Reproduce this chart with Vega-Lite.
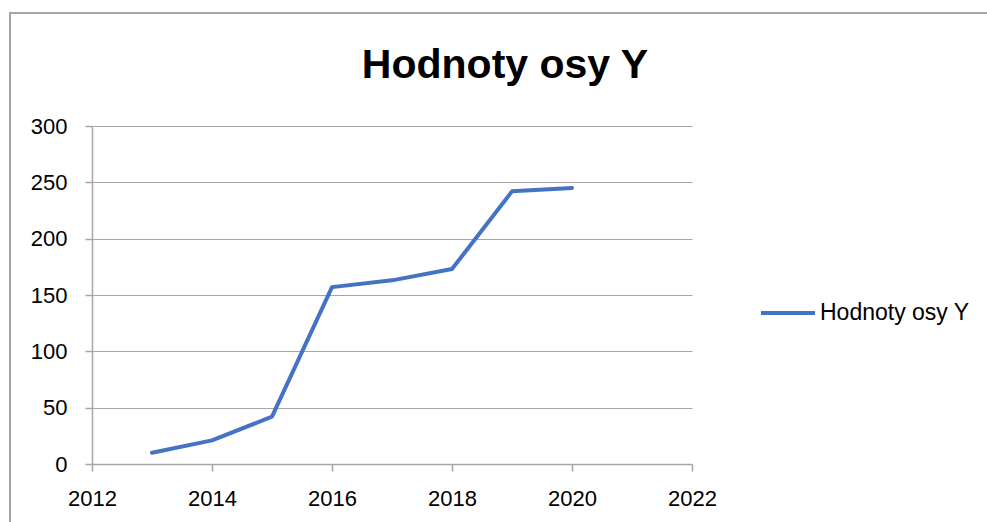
{
  "$schema": "https://vega.github.io/schema/vega-lite/v6.json",
  "width": 600,
  "height": 338,
  "autosize": {"type": "none"},
  "padding": {"left": 92, "top": 126, "right": 295, "bottom": 58},
  "background": "white",
  "config": {
    "view": {"stroke": null},
    "font": "Liberation Sans"
  },
  "title": {
    "text": "Hodnoty osy Y",
    "font": "Liberation Sans",
    "fontSize": 41,
    "fontWeight": "bold",
    "color": "#000000",
    "anchor": "middle",
    "baseline": "alphabetic",
    "dx": 113,
    "offset": -107
  },
  "data": {
    "values": [
      {"year": 2013, "value": 10, "series": "Hodnoty osy Y"},
      {"year": 2014, "value": 21, "series": "Hodnoty osy Y"},
      {"year": 2015, "value": 42, "series": "Hodnoty osy Y"},
      {"year": 2016, "value": 157, "series": "Hodnoty osy Y"},
      {"year": 2017, "value": 163, "series": "Hodnoty osy Y"},
      {"year": 2018, "value": 173, "series": "Hodnoty osy Y"},
      {"year": 2019, "value": 242, "series": "Hodnoty osy Y"},
      {"year": 2020, "value": 245, "series": "Hodnoty osy Y"}
    ]
  },
  "layer": [
    {
      "mark": {"type": "rect", "fill": null, "stroke": "#a6a6a6", "strokeWidth": 1.5, "clip": false},
      "encoding": {
        "x": {"datum": 2010.63, "type": "quantitative", "scale": {"domain": [2012, 2022]}},
        "x2": {"datum": 2035},
        "y": {"datum": 400.3, "type": "quantitative", "scale": {"domain": [0, 300]}},
        "y2": {"datum": -120}
      }
    },
    {
      "mark": {"type": "line", "strokeWidth": 4, "strokeCap": "round", "strokeJoin": "round"},
      "encoding": {
        "x": {
          "field": "year",
          "type": "quantitative",
          "scale": {"domain": [2012, 2022], "zero": false, "nice": false},
          "axis": {
            "title": null,
            "values": [2012, 2014, 2016, 2018, 2020, 2022],
            "format": "d",
            "grid": false,
            "domainColor": "#a6a6a6",
            "domainWidth": 1.5,
            "tickColor": "#a6a6a6",
            "tickWidth": 1.5,
            "tickSize": 7,
            "labelFont": "Liberation Sans",
            "labelFontSize": 22,
            "labelColor": "#000000",
            "labelPadding": 17,
            "labelFlush": false
          }
        },
        "y": {
          "field": "value",
          "type": "quantitative",
          "scale": {"domain": [0, 300], "nice": false},
          "axis": {
            "title": null,
            "values": [0, 50, 100, 150, 200, 250, 300],
            "grid": true,
            "gridColor": "#a6a6a6",
            "gridWidth": 1.2,
            "domainColor": "#a6a6a6",
            "domainWidth": 1.5,
            "tickColor": "#a6a6a6",
            "tickWidth": 1.5,
            "tickSize": 7,
            "labelFont": "Liberation Sans",
            "labelFontSize": 22,
            "labelColor": "#000000",
            "labelPadding": 18
          }
        },
        "color": {
          "field": "series",
          "type": "nominal",
          "scale": {"range": ["#4472C4"]},
          "legend": {
            "title": null,
            "orient": "none",
            "legendX": 667,
            "legendY": 158,
            "padding": 0,
            "symbolType": "stroke",
            "symbolSize": 2916,
            "symbolStrokeWidth": 4,
            "labelFont": "Liberation Sans",
            "labelFontSize": 23,
            "labelColor": "#000000",
            "labelOffset": 3
          }
        }
      }
    }
  ]
}
